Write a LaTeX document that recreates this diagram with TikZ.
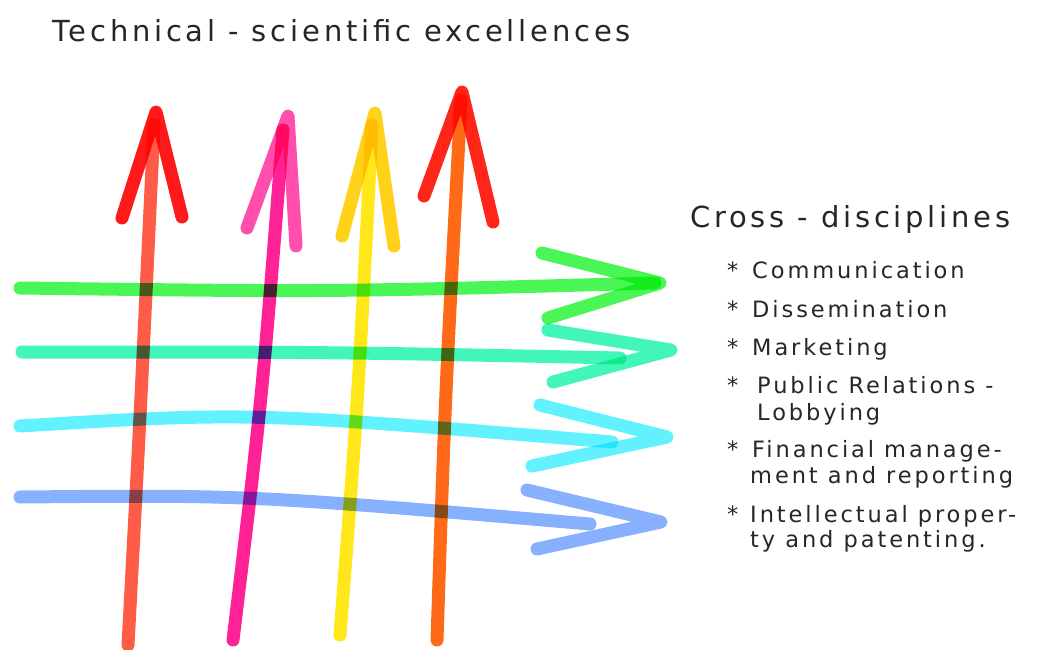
\documentclass[tikz,border=0pt]{standalone}
\usepackage{fontspec}
\setmainfont[LetterSpace=13]{DejaVu Sans}
\usepackage{tikz}
\definecolor{penRed}{HTML}{FF2A10}
\definecolor{penPink}{HTML}{FF0A8C}
\definecolor{penYellow}{HTML}{FFE400}
\definecolor{penGold}{HTML}{FFCC00}
\definecolor{penOrange}{HTML}{FF5A00}
\definecolor{penGreen}{HTML}{36F542}
\definecolor{penMint}{HTML}{2EF5B4}
\definecolor{penCyan}{HTML}{50F0FF}
\definecolor{penBlue}{HTML}{7AA8FF}

\begin{document}
\begin{tikzpicture}[x=1pt, y=-1pt,
		crayon/.style={line width=13pt, line cap=round, line join=round, blend mode=multiply, opacity=0.9},
		txt/.style={anchor=base west, inner sep=0pt, text=black!85, font=\fontsize{22.5}{26}\selectfont}]
		
		\useasboundingbox (0,0) rectangle (1057,650);
		
		% vertical arrows
		\draw[crayon, penRed!85] (128,645) .. controls (140,420) .. (154,125);
		\draw[crayon, red] (122,218) -- (156,112) -- (182,217);
		
		\draw[crayon, penPink] (233,640) .. controls (262,400) .. (283,130);
		\draw[crayon, penPink!80] (247,228) -- (288,116) -- (296,246);
		
		\draw[crayon, penYellow] (340,635) .. controls (358,400) .. (372,125);
		\draw[crayon, penGold] (342,236) -- (375,113) -- (394,246);
		
		\draw[crayon, penOrange] (437,640) .. controls (445,400) .. (461,100);
		\draw[crayon, red!90!orange] (424,196) -- (462,92) -- (493,222);
		
		% horizontal arrows
		\draw[crayon, penGreen] (20,288) .. controls (330,292) .. (655,283);
		\draw[crayon, penGreen] (542,253) -- (660,283) -- (548,318);
		
		\draw[crayon, penMint] (22,352) .. controls (330,352) .. (620,358);
		\draw[crayon, penMint] (548,330) -- (671,350) -- (553,382);
		
		\draw[crayon, penCyan] (20,426) .. controls (250,412) .. (612,442);
		\draw[crayon, penCyan] (540,405) -- (667,437) -- (532,466);
		
		\draw[crayon, penBlue] (20,497) .. controls (250,495) .. (590,524);
		\draw[crayon, penBlue] (527,490) -- (661,522) -- (537,549);
		
		% texts
		\node[txt, font=\fontsize{29}{34}\selectfont] (title) at (52,42) {Technical - scientific excellences};
		\node[txt, font=\fontsize{29}{32}\selectfont] (cross) at (690,227) {Cross - disciplines};
		
		\node[txt] (b1) at (727,278) {*};
		\node[txt] (i1) at (752,278) {Communication};
		\node[txt] (b2) at (727,317) {*};
		\node[txt] (i2) at (752,317) {Dissemination};
		\node[txt] (b3) at (727,355) {*};
		\node[txt] (i3) at (752,355) {Marketing};
		\node[txt] (b4) at (727,393) {*};
		\node[txt] (i4) at (757,393) {Public Relations -};
		\node[txt] (i4b) at (757,420) {Lobbying};
		\node[txt] (b5) at (727,457) {*};
		\node[txt] (i5) at (752,457) {Financial manage-};
		\node[txt] (i5b) at (750,483) {ment and reporting};
		\node[txt] (b6) at (727,522) {*};
		\node[txt] (i6) at (750,522) {Intellectual proper-};
		\node[txt] (i6b) at (750,547) {ty and patenting.};
		
\end{tikzpicture}
\end{document}
